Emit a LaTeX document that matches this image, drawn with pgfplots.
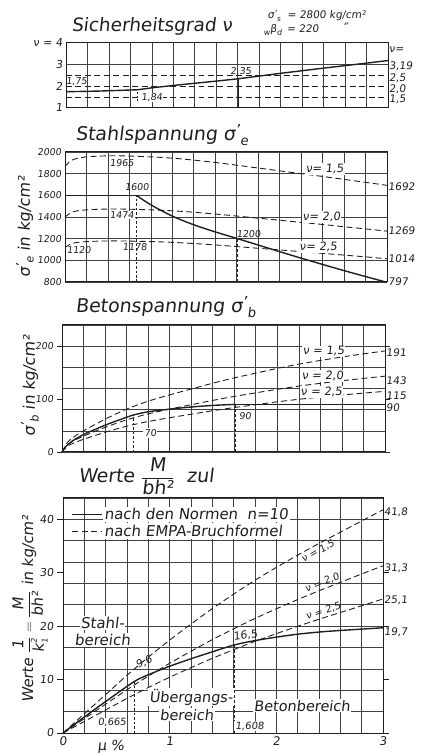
\documentclass[border=0pt]{standalone}
\usepackage{pgfplots}
\pgfplotsset{compat=1.18}
\usepackage{fontspec}
\setmainfont{DejaVu Sans}[FakeSlant=0.12]
\definecolor{ink}{gray}{0.12}
\definecolor{gridc}{gray}{0.25}
\newcommand{\fs}[1]{\fontsize{#1}{#1}\selectfont}
\newcommand{\sig}[1]{σ\raisebox{0.5ex}{\scalebox{0.8}{'}}\raisebox{-0.45ex}{\scalebox{0.7}{#1}}}
\tikzset{
  sol/.style={ink, line width=1.4pt},
  dsh/.style={ink, line width=0.9pt, dash pattern=on 6pt off 3.5pt},
  gl/.style={gridc, line width=0.65pt},
  rl/.style={anchor=west, font=\fs{10.5}, text=ink, inner sep=1pt},
  lb/.style={font=\fs{9.5}, text=ink, inner sep=1pt},
}
\pgfplotsset{
  panel/.style={
    scale only axis, xmin=0, xmax=3,
    xtick={0,1,2,3},
    minor xtick={0.2,0.4,0.6,0.8,1.2,1.4,1.6,1.8,2.2,2.4,2.6,2.8},
    xmajorgrids, xminorgrids,
    major grid style={gridc, line width=0.65pt},
    minor grid style={gridc, line width=0.65pt},
    axis line style={ink, line width=1pt},
    major tick length=0pt, minor tick length=0pt,
    tick style={ink, line width=0.7pt},
    clip=false,
    /pgf/number format/assume math mode=true,
    ticklabel style={font=\fs{9.5}, text=ink},
  },
}
\begin{document}
\begin{tikzpicture}[x=1bp,y=1bp]
\useasboundingbox (0,0) rectangle (432,754);

% ---------------- Panel 1 : Sicherheitsgrad
\begin{axis}[panel, at={(66bp,646bp)}, anchor=south west, width=322bp, height=65bp,
  ymin=1, ymax=4, ytick={1,2,3,4}, yticklabels={1,2,3,ν = 4}, xticklabels={},
  yticklabel style={font=\fs{11}}]
\addplot[gl] coordinates {(0,3) (3,3)};
\addplot[dsh] coordinates {(0,2.5) (3,2.5)};
\addplot[dsh] coordinates {(0,2.0) (3,2.0)};
\addplot[dsh] coordinates {(0,1.5) (3,1.5)};
\addplot[sol] coordinates {(0,1.75) (0.3,1.78) (0.665,1.84) (0.8,1.93) (1.0,2.04) (1.2,2.14) (1.4,2.24) (1.608,2.35) (2.0,2.6) (2.4,2.84) (2.8,3.07) (3,3.19)};
\addplot[ink, line width=0.5pt, dash pattern=on 2pt off 2pt] coordinates {(0.665,1.3) (0.665,1.84)};
\addplot[ink, line width=0.9pt] coordinates {(1.608,1) (1.608,2.35)};
\node[lb] at (axis cs:0.10,2.2) {1,75};
\node[lb] at (axis cs:1.63,2.66) {2,35};
\node[lb, fill=white, inner sep=0.5pt] at (axis cs:0.8,1.5) {1,84};
\node[rl] at (axis cs:3,3.68) {ν=};
\node[rl] at (axis cs:3,2.94) {3,19};
\node[rl] at (axis cs:3,2.36) {2,5};
\node[rl] at (axis cs:3,1.88) {2,0};
\node[rl] at (axis cs:3,1.42) {1,5};
\end{axis}

% ---------------- Panel 2 : Stahlspannung
\begin{axis}[panel, at={(65bp,472bp)}, anchor=south west, width=322bp, height=130bp,
  ymin=800, ymax=2000, ytick={800,1000,1200,1400,1600,1800,2000},
  yticklabels={800,1000,1200,1400,1600,1800,2000}, ymajorgrids, xticklabels={}]
\addplot[dsh, smooth] coordinates {(0,1867) (0.05,1915) (0.1,1938) (0.2,1955) (0.35,1963) (0.5,1965) (0.8,1955) (1.0,1943) (1.2,1925) (1.4,1903) (1.6,1878) (1.8,1852) (2.0,1826) (2.2,1800) (2.4,1774) (2.6,1747) (2.8,1720) (3,1692)};
\addplot[dsh, smooth] coordinates {(0,1400) (0.05,1436) (0.1,1454) (0.2,1466) (0.35,1472) (0.5,1474) (0.8,1466) (1.0,1457) (1.2,1444) (1.4,1427) (1.6,1409) (1.8,1389) (2.0,1370) (2.2,1350) (2.4,1331) (2.6,1310) (2.8,1290) (3,1269)};
\addplot[dsh, smooth] coordinates {(0,1120) (0.05,1149) (0.1,1163) (0.2,1173) (0.35,1178) (0.5,1179) (0.8,1173) (1.0,1166) (1.2,1155) (1.4,1142) (1.6,1127) (1.8,1111) (2.0,1096) (2.2,1080) (2.4,1064) (2.6,1048) (2.8,1032) (3,1014)};
\addplot[sol] coordinates {(0,1600) (0.665,1600)};
\addplot[sol, smooth] coordinates {(0.665,1600) (0.8,1512) (1.0,1408) (1.2,1328) (1.4,1262) (1.608,1200) (1.8,1141) (2.0,1080) (2.2,1020) (2.4,962) (2.6,905) (2.8,850) (3,797)};
\addplot[ink, line width=0.5pt, dash pattern=on 2.5pt off 2pt] coordinates {(0.665,800) (0.665,1600)};
\addplot[ink, line width=0.8pt, dash pattern=on 3pt off 2pt] coordinates {(1.608,800) (1.608,1200)};
\node[lb] at (axis cs:0.53,1898) {1965};
\node[lb] at (axis cs:0.67,1680) {1600};
\node[lb, fill=white] at (axis cs:0.53,1418) {1474};
\node[lb] at (axis cs:0.13,1095) {1120};
\node[lb] at (axis cs:0.65,1126) {1178};
\node[lb] at (axis cs:1.71,1243) {1200};
\node[font=\fs{11.5}, text=ink, fill=white, inner sep=1pt] at (axis cs:2.42,1843) {ν= 1,5};
\node[font=\fs{11.5}, text=ink, fill=white, inner sep=1pt] at (axis cs:2.39,1400) {ν= 2,0};
\node[font=\fs{11.5}, text=ink, fill=white, inner sep=1pt] at (axis cs:2.36,1126) {ν= 2,5};
\node[rl] at (axis cs:3,1677) {1692};
\node[rl] at (axis cs:3,1271) {1269};
\node[rl] at (axis cs:3,1012) {1014};
\node[rl] at (axis cs:3,800) {797};
\end{axis}

% ---------------- Panel 3 : Betonspannung
\begin{axis}[panel, at={(62bp,302bp)}, anchor=south west, width=323bp, height=127bp,
  ymin=0, ymax=240, ytick={0,40,80,120,160,200,240}, yticklabels={}, ymajorgrids, xticklabels={},
  extra y ticks={0,100,200}, extra y tick labels={0,100,200},
  extra y tick style={grid=none, tick align=outside, major tick length=5pt}]
\addplot[dsh, smooth] coordinates {(0,0) (0.05,18) (0.1,27) (0.2,40) (0.4,62) (0.6,81) (0.8,96) (1.0,108) (1.2,119) (1.4,130) (1.6,140) (1.8,149) (2.0,158) (2.2,166) (2.4,173) (2.6,179.5) (2.8,185.5) (3,191)};
\addplot[dsh, smooth] coordinates {(0,0) (0.05,13.5) (0.1,20.3) (0.2,30) (0.4,46.5) (0.6,60.8) (0.8,72) (1.0,81) (1.2,89.3) (1.4,97.5) (1.6,105) (1.8,111.8) (2.0,118.5) (2.2,124.5) (2.4,129.8) (2.6,134.6) (2.8,139.1) (3,143.3)};
\addplot[dsh, smooth] coordinates {(0,0) (0.05,10.8) (0.1,16.2) (0.2,24) (0.4,37.2) (0.6,48.6) (0.8,57.6) (1.0,64.8) (1.2,71.4) (1.4,78) (1.6,84) (1.8,89.4) (2.0,94.8) (2.2,99.6) (2.4,103.8) (2.6,107.7) (2.8,111.3) (3,114.6)};
\addplot[sol, smooth] coordinates {(0,0) (0.03,9) (0.09,20) (0.2,33) (0.3,42) (0.43,53) (0.55,62) (0.665,70) (0.8,76) (1.0,81) (1.2,85) (1.4,88) (1.608,90)};
\addplot[sol] coordinates {(1.608,90) (3,90)};
\addplot[ink, line width=0.5pt, dash pattern=on 2.5pt off 2pt] coordinates {(0.665,0) (0.665,70)};
\addplot[ink, line width=0.8pt, dash pattern=on 3pt off 2pt] coordinates {(1.608,0) (1.608,90)};
\node[lb, fill=white] at (axis cs:0.82,36) {70};
\node[lb, fill=white] at (axis cs:1.70,67) {90};
\node[font=\fs{11.5}, text=ink, fill=white, inner sep=1pt] at (axis cs:2.43,190) {ν = 1,5};
\node[font=\fs{11.5}, text=ink, fill=white, inner sep=1pt] at (axis cs:2.42,143) {ν = 2,0};
\node[font=\fs{11.5}, text=ink, fill=white, inner sep=1pt] at (axis cs:2.41,113) {ν = 2,5};
\node[rl] at (axis cs:3,187) {191};
\node[rl] at (axis cs:3,134) {143};
\node[rl] at (axis cs:3,106) {115};
\node[rl] at (axis cs:3,83) {90};
\end{axis}

% ---------------- Panel 4 : Werte M/bh^2 zul
\begin{axis}[panel, at={(63bp,21bp)}, anchor=south west, width=320bp, height=235bp,
  ymin=0, ymax=44, ytick={0,4,...,44}, yticklabels={}, ymajorgrids,
  xticklabels={0,1,2,3}, xticklabel style={font=\fs{12}},
  extra y ticks={0,10,20,30,40}, extra y tick labels={0,10,20,30,40},
  extra y tick style={grid=none, tick align=outside, major tick length=6pt, yticklabel style={font=\fs{11}}},
  legend image code/.code={\draw[#1] (0pt,0pt) -- (30pt,0pt);},
  legend style={at={(axis cs:0.05,42.8)}, anchor=north west, draw=none, fill=none,
     font=\fs{15}, text=ink, row sep=1pt, nodes={fill=white, inner sep=1.5pt}},
  legend cell align=left]
\addplot[sol, smooth] coordinates {(0,0) (0.2,3.0) (0.4,5.9) (0.665,9.6) (0.8,10.9) (1.0,12.5) (1.2,13.9) (1.4,15.2) (1.608,16.5) (1.8,17.3) (2.0,17.95) (2.2,18.5) (2.4,18.9) (2.6,19.2) (2.8,19.45) (3,19.7)};
\addlegendentry{nach den Normen \ n=10}
\addplot[dsh, smooth] coordinates {(0,0) (0.2,3.6) (0.4,7.2) (0.6,10.8) (0.8,14.2) (1.0,17.4) (1.2,20.4) (1.4,23.3) (1.6,26.0) (1.8,28.6) (2.0,31.0) (2.2,33.3) (2.4,35.5) (2.6,37.6) (2.8,39.7) (3,41.8)};
\addlegendentry{nach EMPA-Bruchformel}
\addplot[dsh, smooth, forget plot] coordinates {(0,0) (0.2,2.7) (0.4,5.4) (0.6,8.1) (0.8,10.65) (1.0,13.05) (1.2,15.3) (1.4,17.48) (1.6,19.5) (1.8,21.45) (2.0,23.25) (2.2,24.98) (2.4,26.63) (2.6,28.2) (2.8,29.78) (3,31.3)};
\addplot[dsh, smooth, forget plot] coordinates {(0,0) (0.2,2.16) (0.4,4.32) (0.6,6.48) (0.8,8.52) (1.0,10.44) (1.2,12.24) (1.4,13.98) (1.6,15.6) (1.8,17.16) (2.0,18.6) (2.2,19.98) (2.4,21.3) (2.6,22.56) (2.8,23.82) (3,25.1)};
\addplot[ink, line width=0.5pt, dash pattern=on 2.5pt off 2pt, forget plot] coordinates {(0.665,0) (0.665,9.6)};
\addplot[ink, line width=0.8pt, dash pattern=on 3pt off 2pt, forget plot] coordinates {(1.608,0) (1.608,16.5)};
\node[font=\fs{15}, text=ink, fill=white, inner sep=1pt] at (axis cs:0.37,20.6) {Stahl-};
\node[font=\fs{15}, text=ink, fill=white, inner sep=1pt] at (axis cs:0.37,17.4) {bereich};
\node[font=\fs{14.5}, text=ink, fill=white, inner sep=1pt] at (axis cs:1.2,6.7) {Übergangs-};
\node[font=\fs{14.5}, text=ink, fill=white, inner sep=1pt] at (axis cs:1.16,3.4) {bereich};
\node[font=\fs{14.5}, text=ink, fill=white, inner sep=1pt] at (axis cs:2.24,5.1) {Betonbereich};
\node[font=\fs{10.5}, text=ink, rotate=25, inner sep=0.5pt] at (axis cs:0.76,13.2) {9,6};
\node[font=\fs{11}, text=ink, rotate=8] at (axis cs:1.71,18.2) {16,5};
\node[font=\fs{10}, text=ink, fill=white, inner sep=1pt] at (axis cs:0.46,1.9) {0,665};
\node[font=\fs{10}, text=ink, fill=white, inner sep=1pt] at (axis cs:1.75,1.3) {1,608};
\node[font=\fs{10}, text=ink, rotate=29, inner sep=0.5pt] at (axis cs:2.39,34.0) {ν = 1,5};
\node[font=\fs{10}, text=ink, rotate=22, inner sep=0.5pt] at (axis cs:2.43,28.1) {ν = 2,0};
\node[font=\fs{10}, text=ink, rotate=18, inner sep=0.5pt] at (axis cs:2.44,22.8) {ν = 2,5};
\node[rl] at (axis cs:3,41.3) {41,8};
\node[rl] at (axis cs:3,30.9) {31,3};
\node[rl] at (axis cs:3,24.9) {25,1};
\node[rl] at (axis cs:3,18.9) {19,7};
\end{axis}

% ---------------- titles and axis labels
\node[anchor=base west, font=\fs{18.5}, text=ink] at (68,722) {Sicherheitsgrad ν};
\node[anchor=base west, font=\fs{10.5}, text=ink, inner sep=0.5pt] at (267,735) {\sig{s} \ = 2800 kg/cm²};
\node[anchor=base west, font=\fs{10.5}, text=ink, inner sep=0.5pt] at (263,721) {\raisebox{-0.4ex}{\scalebox{0.75}{w}}β\raisebox{-0.4ex}{\scalebox{0.75}{d}} \,= 220 \qquad {\fs{13}″}};
\node[anchor=base west, font=\fs{19}, text=ink] at (72,613) {Stahlspannung \sig{e}};
\node[anchor=base west, font=\fs{19}, text=ink] at (72,441) {Betonspannung \sig{b}};
\node[anchor=base west, font=\fs{19}, text=ink] at (75,271) {Werte $\displaystyle\frac{\mbox{M}}{\mbox{bh²}}$ \ zul};
\node[rotate=90, font=\fs{16}, text=ink] at (25,527) {\sig{e} in kg/cm²};
\node[rotate=90, font=\fs{16}, text=ink] at (30,368) {\sig{b} in kg/cm²};
\node[rotate=90, font=\fs{15}, text=ink] at (30,145) {Werte $\displaystyle\frac{\mbox{1}}{\mbox{k}_{\mbox{\fs{8}1}}^{\mbox{\fs{8}2}}} = \frac{\mbox{M}}{\mbox{bh²}}$ in kg/cm²};
\node[anchor=base west, font=\fs{14}, text=ink] at (94,3) {μ \%};
\end{tikzpicture}
\end{document}
